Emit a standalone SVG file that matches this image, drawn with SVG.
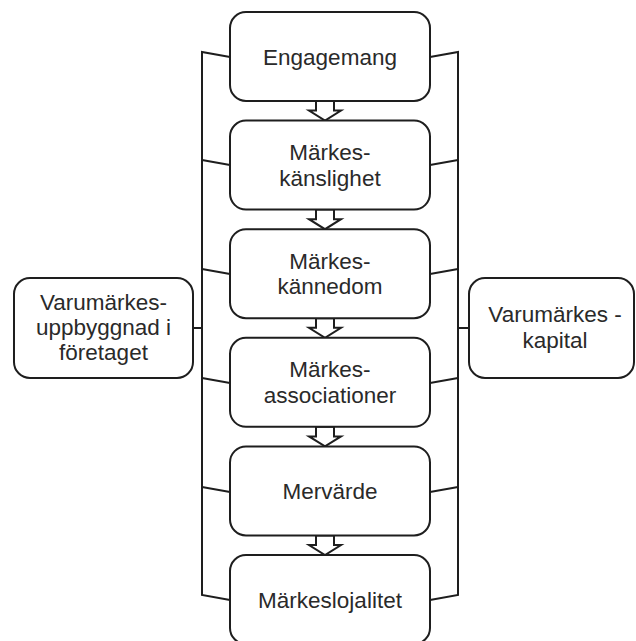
<svg xmlns="http://www.w3.org/2000/svg" width="636" height="641" viewBox="0 0 636 641">
<style>
.box{fill:#fff;stroke:#1e1e1e;stroke-width:2}
.con{fill:none;stroke:#1e1e1e;stroke-width:2}
.arr{fill:#fff;stroke:#1e1e1e;stroke-width:2;stroke-linejoin:miter}
.t{font-family:"Liberation Sans",Arial,sans-serif;font-size:22.5px;fill:#2a2a2a;text-anchor:middle}
</style>
<rect width="636" height="641" fill="#fff"/>
<g id="connectors">
<polyline class="con" points="230,57 202,52 202,595 230,600"/>
<line class="con" x1="202" y1="160" x2="230" y2="165"/>
<line class="con" x1="202" y1="269" x2="230" y2="274"/>
<line class="con" x1="202" y1="378" x2="230" y2="383"/>
<line class="con" x1="202" y1="487" x2="230" y2="492"/>
<line class="con" x1="193" y1="328" x2="202" y2="328"/>
<polyline class="con" points="430,57 458,52 458,595 430,600"/>
<line class="con" x1="458" y1="160" x2="430" y2="165"/>
<line class="con" x1="458" y1="269" x2="430" y2="274"/>
<line class="con" x1="458" y1="378" x2="430" y2="383"/>
<line class="con" x1="458" y1="487" x2="430" y2="492"/>
<line class="con" x1="458" y1="328" x2="469" y2="328"/>
<polygon class="arr" points="316,101 334,101 334,110.6 341,110.6 325,120.6 309,110.6 316,110.6"/>
<polygon class="arr" points="316,209.6 334,209.6 334,219.2 341,219.2 325,229.2 309,219.2 316,219.2"/>
<polygon class="arr" points="316,318.2 334,318.2 334,327.8 341,327.8 325,337.8 309,327.8 316,327.8"/>
<polygon class="arr" points="316,426.8 334,426.8 334,436.4 341,436.4 325,446.4 309,436.4 316,436.4"/>
<polygon class="arr" points="316,535.4 334,535.4 334,545 341,545 325,555 309,545 316,545"/>
</g>
<g id="n1"><rect class="box" x="230" y="12" width="200" height="89" rx="16"/><text class="t" x="330" y="65">Engagemang</text></g>
<g id="n2"><rect class="box" x="230" y="120.6" width="200" height="89" rx="16"/><text class="t" x="330" y="160">Märkes-</text><text class="t" x="330" y="185.5">känslighet</text></g>
<g id="n3"><rect class="box" x="230" y="229.2" width="200" height="89" rx="16"/><text class="t" x="330" y="268.5">Märkes-</text><text class="t" x="330" y="294">kännedom</text></g>
<g id="n4"><rect class="box" x="230" y="337.8" width="200" height="89" rx="16"/><text class="t" x="330" y="377">Märkes-</text><text class="t" x="330" y="402.5">associationer</text></g>
<g id="n5"><rect class="box" x="230" y="446.4" width="200" height="89" rx="16"/><text class="t" x="330" y="499">Mervärde</text></g>
<g id="n6"><rect class="box" x="230" y="555" width="200" height="89" rx="16"/><text class="t" x="330" y="607.5">Märkeslojalitet</text></g>
<g id="left"><rect class="box" x="14" y="278" width="179" height="100" rx="16"/><text class="t" x="103.5" y="310">Varumärkes-</text><text class="t" x="103.5" y="335">uppbyggnad i</text><text class="t" x="103.5" y="360">företaget</text></g>
<g id="right"><rect class="box" x="469" y="278" width="165" height="100" rx="16"/><text class="t" x="555" y="322">Varumärkes -</text><text class="t" x="555" y="348">kapital</text></g>
</svg>
